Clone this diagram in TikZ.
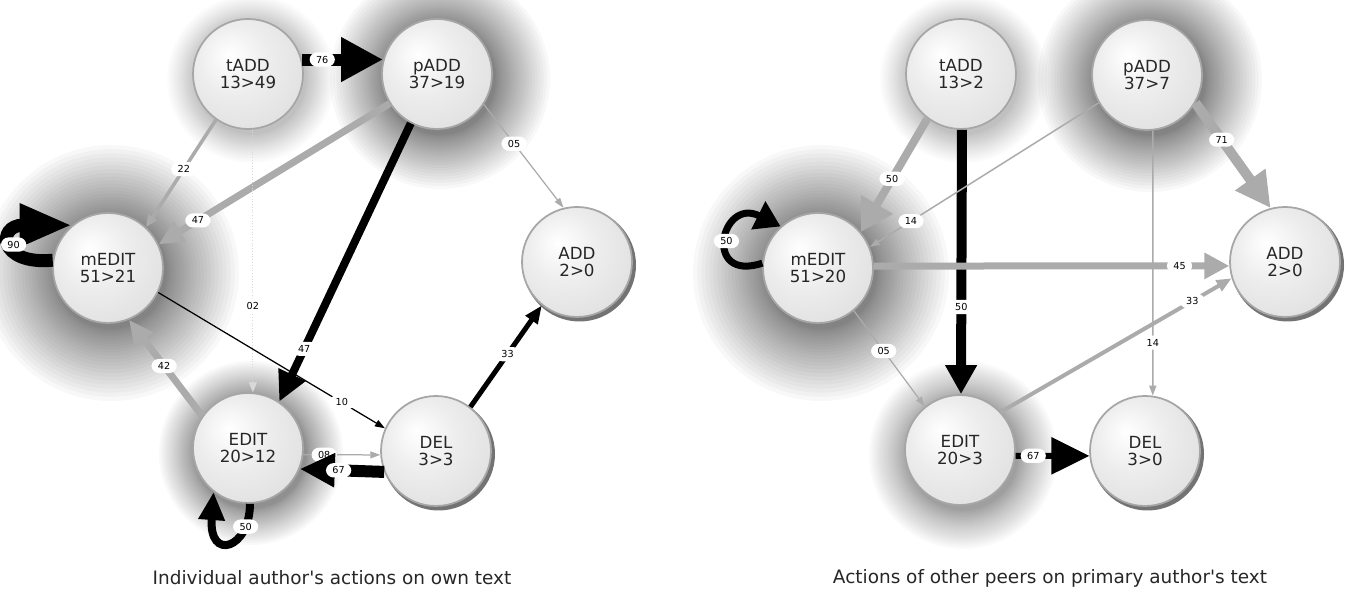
\documentclass[tikz,border=0pt]{standalone}
\usepackage{fontspec}
\setmainfont{DejaVu Sans}
\usetikzlibrary{arrows.meta,backgrounds}

\pgfdeclareradialshading{orb}{\pgfpoint{-9bp}{9bp}}{color(0bp)=(white); color(16bp)=(black!7); color(36bp)=(black!13); color(44bp)=(black!20); color(52bp)=(black!30); color(58bp)=(black!50)}

\tikzset{
  state/.style={circle, minimum size=22mm, inner sep=0pt, shade, shading=orb, draw=black!35, line width=0.35mm, align=center, text=black!85, font=\fontsize{9.5}{9.6}\selectfont},
  lbl/.style={fill=white, rounded corners=1.5mm, inner xsep=1.3mm, inner ysep=0.7mm, text=black, font=\fontsize{5.5}{5.5}\selectfont},
  flow/.style n args={3}{line width=#1mm, -{Triangle[length=#2mm, width=#3mm]}},
  grayflow/.style n args={3}{black!33, flow={#1}{#2}{#3}},
  blackflow/.style n args={3}{black, flow={#1}{#2}{#3}},
  caption/.style={text=black!85, font=\fontsize{10.5}{12}\selectfont}
}

\begin{document}
\begin{tikzpicture}[x=0.2mm, y=0.2mm]
\useasboundingbox (0,0) rectangle (1351,-596);

% own text
\node [state] (tAddL) at (248,-74) {tADD\\13>49};
\node [state] (pAddL) at (437,-74) {pADD\\37>19};
\node [state] (mEdL) at (108,-268) {mEDIT\\51>21};
\node [state] (AddL) at (577,-262) {ADD\\2>0};
\node [state] (EdL) at (248,-448) {EDIT\\20>12};
\node [state] (DelL) at (436,-451) {DEL\\3>3};

% peers
\node [state] (tAddR) at (961,-74) {tADD\\13>2};
\node [state] (pAddR) at (1147,-75) {pADD\\37>7};
\node [state] (mEdR) at (818,-268) {mEDIT\\51>20};
\node [state] (AddR) at (1285,-262) {ADD\\2>0};
\node [state] (EdR) at (960,-450) {EDIT\\20>3};
\node [state] (DelR) at (1145,-451) {DEL\\3>0};

% glows and rims
\begin{scope}[on background layer]
\foreach \n/\r/\a in {tAddL/84/0.011, pAddL/110/0.027, mEdL/128/0.027, EdL/92/0.022,
                      tAddR/84/0.011, pAddR/112/0.027, mEdR/128/0.027, EdR/94/0.021}
  \foreach \k in {1,...,24}
    \fill [black, fill opacity=\a] ([shift={(3,-5)}]\n.center) circle ({55+(\r-55)*(\k/24)^1.4});
\foreach \n in {AddL,DelL,AddR,DelR}
  \fill [black!55] ([shift={(2.5,-3)}]\n.center) circle (56.5);
\end{scope}

% own text
\draw [blackflow={2.4}{8.4}{8.4}] (tAddL.15) -- (pAddL.165) node [lbl, pos=0.25] {76};
\draw [grayflow={0.7}{2.4}{2}] (tAddL.235) -- (mEdL.47) node [lbl, pos=0.46] {22};
\draw [grayflow={1.4}{5}{4.4}] (pAddL.212) -- (mEdL.25) node [lbl, pos=0.83] {47};
\draw [blackflow={1.6}{6}{5.6}] (pAddL.242) -- (EdL.56) node [lbl, pos=0.81] {47};
\draw [grayflow={0.25}{2}{1.3}] (pAddL.-33) -- (AddL.104) node [lbl, pos=0.38] {05};
\draw [black!15, densely dotted, flow={0.2}{2}{1.6}] (tAddL.-85) -- (EdL.85) node [lbl, pos=0.67] {02};
\draw [blackflow={2.6}{10.5}{8}] (mEdL.172) .. controls +(-55,-5) and +(-75,0) .. node [lbl, pos=0.5] {90} (mEdL.130);
\draw [blackflow={0.25}{2}{1.4}] (mEdL.-26) -- (DelL.156) node [lbl, pos=0.81] {10};
\draw [grayflow={1.4}{5}{4.4}] (EdL.145) -- (mEdL.-68) node [lbl, pos=0.52] {42};
\draw [blackflow={1.6}{5.6}{5}] (EdL.-88) .. controls +(0,-45) and +(-5,-70) .. node [lbl, pos=0.2] {50} (EdL.-128);
\draw [grayflow={0.25}{2}{1.4}] (EdL.-7) -- (DelL.184) node [lbl, pos=0.27] {08};
\draw [blackflow={2.4}{7}{6.4}] (DelL.202) -- (EdL.-22) node [lbl, pos=0.54] {67};
\draw [blackflow={1}{3.6}{2.8}] (DelL.52) -- (AddL.231) node [lbl, pos=0.52] {33};

% peers
\draw [grayflow={1.6}{6.4}{7}] (tAddR.233) -- (mEdR.40) node [lbl, pos=0.53] {50};
\draw [blackflow={2}{5.8}{6}] (tAddR.-89) -- (EdR.89) node [lbl, pos=0.67] {50};
\draw [grayflow={0.3}{2}{1.3}] (pAddR.210) -- (mEdR.22) node [lbl, pos=0.82] {14};
\draw [grayflow={2}{7}{7}] (pAddR.-30) -- (AddR.105) node [lbl, pos=0.35] {71};
\draw [grayflow={0.3}{2}{1.4}] (pAddR.-84) -- (DelR.82) node [lbl, pos=0.8] {14};
\draw [grayflow={1.4}{5}{5}] (mEdR.2) -- (AddR.184) node [lbl, pos=0.86] {45};
\draw [blackflow={1.4}{5}{6}] (mEdR.175) .. controls +(-60,-20) and +(-60,30) .. node [lbl, pos=0.5] {50} (mEdR.132);
\draw [grayflow={0.25}{2}{1.3}] (mEdR.-50) -- (EdR.129) node [lbl, pos=0.42] {05};
\draw [grayflow={0.8}{3}{2.4}] (EdR.43) -- (AddR.197) node [lbl, pos=0.83] {33};
\draw [blackflow={1.2}{7.6}{7.2}] (EdR.-6) -- (DelR.185) node [lbl, pos=0.24] {67};

\node [caption] (capL) at (332,-578) {Individual author\textquotesingle s actions on own text};
\node [caption] (capR) at (1050,-578) {Actions of other peers on primary author\textquotesingle s text};
\end{tikzpicture}
\end{document}
